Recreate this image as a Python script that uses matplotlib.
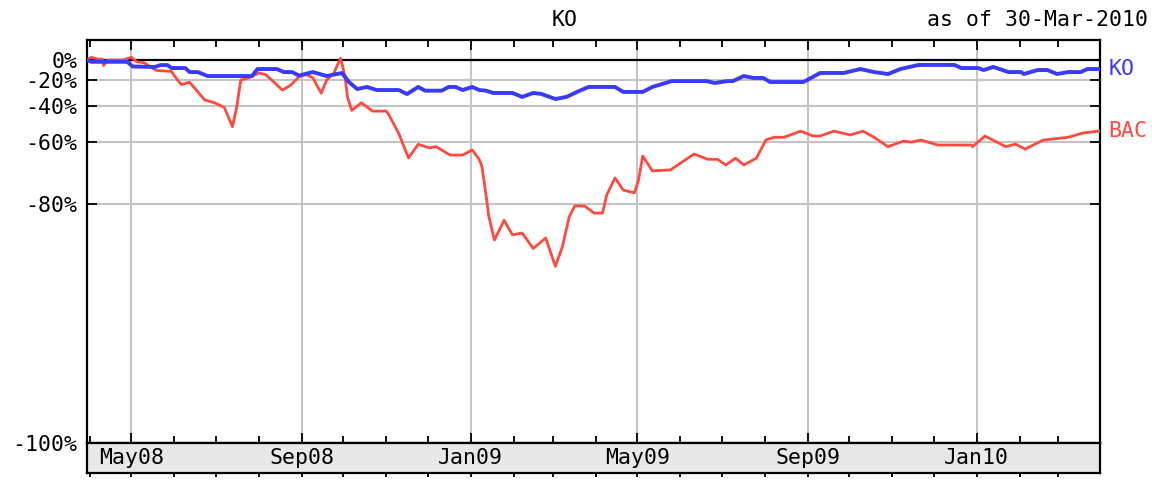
import numpy as np
import pandas as pd
import matplotlib
matplotlib.use("Agg")
import matplotlib.pyplot as plt
import matplotlib.dates as mdates

plt.rcParams['font.family'] = ['DejaVu Sans Mono']

# percent change since 30-Mar-2008
ko_dates = ["2008-03-30", "2008-04-02", "2008-04-28", "2008-05-02", "2008-05-18", "2008-05-22",
            "2008-05-27", "2008-05-30", "2008-06-09", "2008-06-12", "2008-06-18", "2008-06-25",
            "2008-07-27", "2008-07-31", "2008-08-14", "2008-08-19", "2008-08-25", "2008-08-30",
            "2008-09-09", "2008-09-19", "2008-09-30", "2008-10-05", "2008-10-11", "2008-10-18",
            "2008-10-25", "2008-11-10", "2008-11-16", "2008-11-24", "2008-11-29", "2008-12-11",
            "2008-12-16", "2008-12-21", "2008-12-26", "2009-01-02", "2009-01-07", "2009-01-12",
            "2009-01-17", "2009-01-31", "2009-02-07", "2009-02-15", "2009-02-21", "2009-03-03",
            "2009-03-11", "2009-03-20", "2009-03-27", "2009-04-15", "2009-04-21", "2009-05-05",
            "2009-05-12", "2009-05-26", "2009-06-20", "2009-06-26", "2009-07-05", "2009-07-09",
            "2009-07-17", "2009-07-24", "2009-07-31", "2009-08-05", "2009-08-29", "2009-09-10",
            "2009-09-27", "2009-10-09", "2009-10-19", "2009-10-29", "2009-11-07", "2009-11-20",
            "2009-12-16", "2009-12-21", "2010-01-02", "2010-01-06", "2010-01-13", "2010-01-24",
            "2010-02-02", "2010-02-04", "2010-02-14", "2010-02-21", "2010-02-28", "2010-03-08",
            "2010-03-17", "2010-03-22", "2010-03-30"]
ko_pct = [0, -2, -2, -7, -7.5, -5.5,
          -5.5, -8.6, -8.6, -12.6, -12.6, -16.4,
          -16.4, -9.6, -9.6, -12.6, -12.6, -16,
          -12.6, -16.4, -13.5, -21.8, -27.7, -26,
          -28.5, -28.5, -31.6, -26, -29, -29,
          -26, -26, -28.5, -26, -28.5, -29,
          -30.8, -30.8, -33.8, -30.8, -31.6, -35.3,
          -33.8, -29.3, -26, -26, -30, -30,
          -26, -21, -21, -22.7, -21, -21,
          -16.4, -18.2, -18.2, -21.8, -21.8, -13.5,
          -13.5, -9.6, -12.6, -14.5, -9.6, -5.4,
          -5.4, -8.6, -8.6, -10.6, -7.5, -12.6,
          -12.6, -14.5, -10.6, -10.6, -14.5, -12.6,
          -12.6, -9.6, -9.6]

bac_dates = ["2008-03-30", "2008-04-02", "2008-04-07", "2008-04-10", "2008-04-11", "2008-04-14",
             "2008-04-25", "2008-05-01", "2008-05-05", "2008-05-10", "2008-05-19", "2008-05-30",
             "2008-06-01", "2008-06-06", "2008-06-12", "2008-06-23", "2008-06-30", "2008-07-07",
             "2008-07-13", "2008-07-16", "2008-07-19", "2008-07-25", "2008-08-01", "2008-08-06",
             "2008-08-18", "2008-08-24", "2008-08-30", "2008-09-04", "2008-09-09", "2008-09-15",
             "2008-09-19", "2008-09-24", "2008-09-29", "2008-10-02", "2008-10-04", "2008-10-07",
             "2008-10-14", "2008-10-22", "2008-11-01", "2008-11-03", "2008-11-10", "2008-11-17",
             "2008-11-24", "2008-12-02", "2008-12-07", "2008-12-17", "2008-12-26", "2009-01-02",
             "2009-01-07", "2009-01-09", "2009-01-12", "2009-01-14", "2009-01-18", "2009-01-25",
             "2009-01-31", "2009-02-07", "2009-02-15", "2009-02-24", "2009-03-03", "2009-03-08",
             "2009-03-13", "2009-03-17", "2009-03-24", "2009-03-31", "2009-04-06", "2009-04-09",
             "2009-04-15", "2009-04-21", "2009-04-29", "2009-05-02", "2009-05-05", "2009-05-12",
             "2009-05-25", "2009-06-11", "2009-06-21", "2009-06-28", "2009-07-04", "2009-07-11",
             "2009-07-17", "2009-07-26", "2009-08-02", "2009-08-08", "2009-08-15", "2009-08-27",
             "2009-09-05", "2009-09-10", "2009-09-20", "2009-10-02", "2009-10-11", "2009-10-19",
             "2009-10-29", "2009-11-09", "2009-11-15", "2009-11-22", "2009-12-04", "2009-12-28",
             "2009-12-29", "2010-01-07", "2010-01-22", "2010-01-29", "2010-02-05", "2010-02-18",
             "2010-03-08", "2010-03-19", "2010-03-30"]
bac_pct = [0, 3, 1, 1, -6, 0,
           0, 3, -2, -3, -11, -12,
           -16, -24, -22, -36, -38, -41,
           -52.5, -41, -20, -18, -13.5, -15,
           -28.5, -24.5, -17, -15, -18, -31,
           -20, -14, 2, -15.5, -34, -43,
           -38, -43.5, -43.5, -46, -56, -66.5,
           -61, -62.5, -62, -65.4, -65.4, -63.4,
           -67, -69.6, -78, -82.6, -86.6, -83.3,
           -85.8, -85.5, -87.8, -86.3, -90, -87.6,
           -82.6, -80.4, -80.4, -81.9, -81.9, -77.9,
           -73.2, -76.6, -77.3, -73.8, -65.8, -71,
           -70.7, -65, -67, -67, -69, -66.6,
           -69, -66.6, -59, -57.8, -57.8, -54.8,
           -57.2, -57.2, -54.8, -56.7, -54.8, -57.8,
           -62, -59.6, -60, -59.1, -61.3, -61.3,
           -62, -57.2, -62, -60.9, -63, -59.1,
           -57.8, -55.7, -54.8]

y_ticks = [0, -20, -40, -60, -80]
y_bottom = -98.61
y_top = 25.0


def fwd(p):
    return np.log(np.clip(1 + np.asarray(p) / 100.0, 1e-6, None))


def inv(v):
    return (np.exp(v) - 1) * 100.0


ko_x = pd.to_datetime(ko_dates)
bac_x = pd.to_datetime(bac_dates)

fig = plt.figure(figsize=(11.52, 4.8), dpi=100)
ax = fig.add_axes([87 / 1152, 1 - 443 / 480, 1013 / 1152, 403 / 480])
ax.set_yscale('function', functions=(fwd, inv))

ax.plot(bac_x, bac_pct, color='#ff4a40', lw=2.0, zorder=3)
ax.plot(ko_x, ko_pct, color='#3a3aff', lw=2.8, zorder=4)
ax.axhline(0, color='black', lw=1.6, zorder=2)

ax.set_xlim(pd.Timestamp("2008-03-30"), pd.Timestamp("2010-03-31"))
ax.set_ylim(y_bottom, y_top)

ax.set_yticks(y_ticks + [y_bottom])
ax.set_yticklabels([f"{t}%" for t in y_ticks] + ["-100%"], fontsize=15.5)
ax.yaxis.set_minor_locator(matplotlib.ticker.NullLocator())
for t in y_ticks[1:]:
    ax.axhline(t, color='#c4c4c4', lw=1.5, zorder=1)

ax.xaxis.set_major_locator(mdates.MonthLocator(bymonth=[1, 5, 9]))
ax.xaxis.set_minor_locator(mdates.MonthLocator())
ax.grid(axis='x', which='major', color='#c4c4c4', lw=1.5, zorder=1)
ax.tick_params(axis='x', which='both', direction='in', top=True, bottom=True,
               labelbottom=False, color='black', width=1.3)
ax.tick_params(axis='x', which='major', length=7)
ax.tick_params(axis='x', which='minor', length=5)
ax.tick_params(axis='y', which='major', direction='in', left=True, right=True,
               length=7, width=1.3, pad=7)
for s in ax.spines.values():
    s.set_linewidth(1.6)

# right-hand series labels at the last values
ax.annotate("KO", xy=(1, ko_pct[-1]), xycoords=('axes fraction', 'data'),
            xytext=(6, 0), textcoords='offset points', va='center', ha='left',
            color='#3a3aff', fontsize=15.5, annotation_clip=False)
ax.annotate("BAC", xy=(1, bac_pct[-1]), xycoords=('axes fraction', 'data'),
            xytext=(6, 0), textcoords='offset points', va='center', ha='left',
            color='#ff4a40', fontsize=15.5, annotation_clip=False)

# date band under the chart
band = fig.add_axes([87 / 1152, 1 - 473 / 480, 1013 / 1152, 30 / 480], sharex=ax)
band.set_facecolor('#e8e8e8')
band.set_yticks([])
band.tick_params(axis='x', which='both', direction='out', length=3, width=1.3,
                 labelbottom=False, top=False)
for s in band.spines.values():
    s.set_linewidth(1.6)
for d in ax.get_xticks():
    band.text(d, 0.5, mdates.num2date(d).strftime("%b%y"), transform=band.get_xaxis_transform(),
              ha='center', va='center', fontsize=15.5)

fig.text(565 / 1152, 1 - 20 / 480, "KO", ha='center', va='center', fontsize=15.5)
fig.text(1148 / 1152, 1 - 20 / 480, "as of 30-Mar-2010", ha='right', va='center', fontsize=15.5)

fig.savefig("out.png", dpi=100)
